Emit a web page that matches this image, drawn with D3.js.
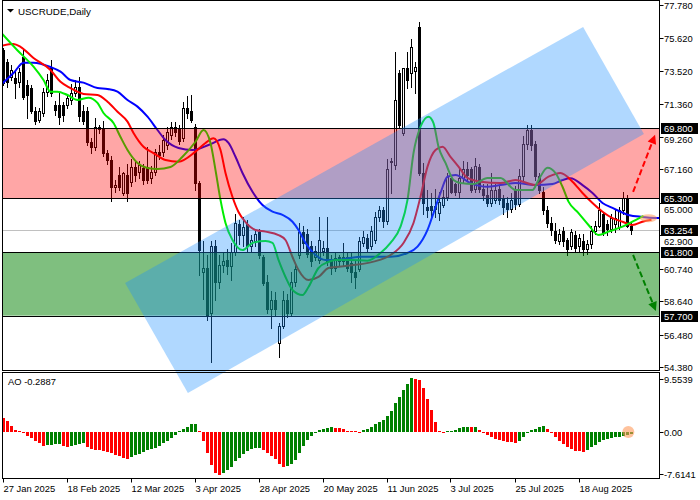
<!DOCTYPE html>
<html><head><meta charset="utf-8">
<script src="https://cdn.jsdelivr.net/npm/d3@7/dist/d3.min.js"></script>
<style>html,body{margin:0;padding:0;background:#fff;}svg{display:block;font-family:"Liberation Sans",Arial,sans-serif;}</style>
</head><body>
<svg id="chart" width="700" height="500"></svg>
<script>
// ---------------- DATA ----------------
const symbolTitle = "USCRUDE,Daily";
const dateLabels = ["27 Jan 2025","18 Feb 2025","12 Mar 2025","3 Apr 2025","28 Apr 2025","20 May 2025","11 Jun 2025","3 Jul 2025","25 Jul 2025","18 Aug 2025"];
const dateLabelIdx = [0,16,32,48,64,80,96,112,128,144];

const open = [74.87,74.1,73.13,73.05,72.8,74.4,72.6,72.4,70.9,70.35,70.8,72.15,73.8,71.3,71.3,71.3,71.32,71.64,72.1,72.5,
70.9,70.9,68.9,68.6,69.75,69.8,68.2,67.76,66.0,66.8,65.63,66.8,66.35,67.3,66.98,67.24,67.3,66.6,67.0,68.3,
68.3,68.73,69.4,69.9,69.8,69.16,71.1,70.9,69.9,66.3,60.5,60.8,57.9,62.2,59.9,61.0,61.3,60.9,61.8,63.6,
62.9,63.6,62.2,62.5,63.1,61.5,59.9,58.1,58.7,55.9,57.0,58.7,57.9,59.9,61.6,63.1,63.0,62.2,61.5,61.3,
61.9,62.05,61.3,60.8,61.5,61.2,61.5,61.1,60.5,60.7,62.4,62.7,62.2,62.6,64.1,64.5,63.8,67.6,67.45,73.37,
69.5,73.69,73.37,73.5,76.34,66.9,64.74,64.8,64.8,64.31,64.85,65.39,66.6,66.2,65.7,66.6,67.2,67.2,65.9,67.3,
65.9,65.5,65.0,65.2,65.9,65.3,65.0,64.6,65.9,64.9,66.7,68.8,69.7,68.8,66.7,65.7,64.5,63.7,63.2,62.55,
63.2,62.6,62.2,62.9,62.2,62.5,62.0,62.3,63.2,63.5,64.3,63.6,63.3,63.6,63.4,64.5,65.3,63.5];
const high = [75.0,74.3,73.9,73.6,73.7,75.0,72.9,72.6,71.2,71.1,72.4,73.3,74.2,71.6,72.1,71.5,72.0,72.7,72.9,73.1,
71.3,71.2,69.2,70.5,70.0,70.3,68.4,68.0,66.5,67.3,67.0,67.5,67.8,67.6,67.7,67.5,68.6,67.4,68.5,68.7,
69.4,69.9,70.2,70.2,70.0,71.5,71.9,71.96,70.1,66.4,62.5,61.6,62.5,62.6,61.6,61.8,62.0,62.4,64.3,63.9,
64.1,63.9,62.9,63.3,63.3,61.6,60.3,59.3,59.2,57.2,59.3,59.1,60.5,61.0,63.7,63.5,63.3,62.5,62.2,64.1,
62.5,64.1,61.6,61.8,61.6,62.4,61.8,61.8,61.2,62.8,63.2,63.0,63.5,64.4,64.8,64.7,67.8,67.9,74.76,73.6,
73.7,74.76,75.6,74.1,76.7,67.55,65.82,65.6,65.9,65.7,65.8,66.9,66.8,66.3,67.3,67.7,67.6,67.3,67.9,67.5,
66.2,66.2,66.9,66.2,66.1,65.5,65.4,65.6,66.1,67.2,69.3,70.0,70.0,69.0,66.9,66.0,64.8,64.1,63.7,63.3,
63.4,62.7,63.3,63.2,63.0,63.0,62.6,63.5,63.8,64.96,64.4,63.9,64.3,64.5,64.7,65.7,65.5,63.7];
const low = [72.6,72.5,72.9,71.8,72.5,71.7,70.5,70.8,70.1,70.2,70.6,71.9,71.9,70.7,70.1,70.3,71.1,71.4,71.9,70.3,
70.1,68.7,68.2,68.4,69.5,68.0,67.5,65.1,65.7,65.8,65.5,65.1,66.1,66.4,66.6,66.2,66.3,66.3,66.8,67.8,
68.0,68.5,69.1,69.3,68.8,69.0,70.5,70.2,65.8,60.3,58.8,57.4,54.7,58.7,59.5,60.5,60.4,60.0,61.6,62.3,
62.2,61.9,61.8,62.2,61.4,59.7,57.9,56.9,57.7,55.05,56.9,57.6,57.7,59.6,61.4,62.1,61.5,60.9,61.3,61.1,
61.6,61.0,60.4,60.6,61.0,61.0,60.6,59.9,59.5,60.6,62.2,61.9,62.0,62.4,63.8,63.4,63.6,65.6,67.2,69.8,
69.4,72.4,72.5,72.1,66.8,64.3,64.1,64.1,64.1,63.9,64.7,65.2,65.6,65.5,65.3,66.3,66.4,65.7,65.7,65.7,
65.2,64.8,64.8,65.0,64.9,64.3,64.1,64.4,64.6,64.8,66.5,68.5,68.4,66.5,65.6,64.3,63.4,62.9,62.4,62.3,
62.2,61.6,62.0,61.8,61.9,61.6,61.7,62.1,63.0,63.4,62.9,62.9,63.1,63.1,63.3,64.3,63.4,63.0];
const close = [72.74,72.8,73.58,72.75,73.45,71.85,71.96,70.9,70.3,70.9,72.15,72.93,72.1,70.98,70.54,70.65,71.77,72.1,72.5,70.6,
70.25,68.9,68.6,69.9,69.9,68.2,67.76,66.0,66.15,66.0,66.92,65.6,67.3,66.8,67.44,66.47,66.5,66.98,68.3,68.1,
69.05,69.57,69.9,69.6,69.0,71.1,70.8,70.35,66.25,61.95,60.75,57.75,62.2,59.9,61.0,61.2,60.9,61.8,63.7,62.9,
63.4,62.2,62.6,63.0,61.6,59.8,58.1,58.7,58.1,57.0,58.7,57.9,59.9,60.7,63.1,62.4,61.7,61.2,61.9,62.6,
62.1,61.2,60.8,61.4,61.2,61.5,60.8,60.5,60.2,62.5,62.8,62.1,63.2,64.1,64.5,63.8,67.2,67.7,71.64,70.02,
73.69,72.93,75.05,73.8,66.9,64.96,64.53,64.5,64.6,65.07,65.39,66.68,65.7,65.7,66.6,67.2,66.8,65.8,67.4,65.9,
65.5,65.0,65.8,65.8,65.2,64.7,64.6,65.2,64.9,66.7,68.8,69.7,68.7,66.7,65.8,64.5,63.7,63.25,62.6,63.0,
62.5,62.0,63.1,62.1,62.7,62.0,62.3,63.2,63.5,64.5,63.1,63.3,64.0,64.0,64.5,65.3,63.5,63.254];

// Alligator lines: bar positions and prices
const jawIdx = [-0.75,2.5,5,7.5,11.75,14.25,16.75,20,23.5,26,28.5,31,33.5,36,38.5,40.5,43.75,47.25,51.25,55,56.25,58,59.75,62.25,64.75,67.25,69.75,72.25,73.75,75.5,78,80.5,83,89.25,96.75,101,103.5,106,107.5,109.25,111,113,116.75,121,124.25,128,133,137.25,139.75,141.75,144.75,147.25,149.75,152.25,156.25,159.75,163,165];
const jaw = [72.6,73.38,74.05,74.05,73.77,73.47,72.93,72.76,72.41,72.35,72.18,71.64,71.21,70.56,69.7,69.05,68.54,68.41,68.73,69.1,68.86,67.97,66.92,65.71,64.85,64.42,64.21,63.77,63.24,62.4,61.62,61.3,61.3,61.51,61.51,61.75,62.16,63.24,64.33,65.63,66.68,66.79,66.27,66.03,66.14,66.27,66.14,66.21,66.47,66.58,66.14,65.63,64.98,64.66,64.21,64.08,64.01,64.0];
const teethIdx = [-0.75,2.5,4.25,7.5,11.75,14.25,16.75,20,23.5,26,28.5,31,32.5,35,37.5,40.5,43.75,48,50.5,52.5,54.25,55.5,57.25,58.75,60.5,63,65.5,68.75,70.5,72.25,73.75,76.25,78.75,81.25,83,87.5,92.5,96.75,100,102.5,104.25,106,108,109.75,111.75,113.75,116,119.25,124.25,128,133,136.25,139.25,142.25,144.75,147.25,149.75,152.25,154.75,157.25,159.75,162];
const teeth = [75.13,75.26,75.08,74.35,73.58,72.82,72.41,72.03,71.96,71.53,70.88,70.24,69.51,68.62,68.21,67.76,67.65,68.3,68.86,69.16,68.41,66.92,65.37,64.4,63.75,63.24,63.13,62.91,62.59,61.49,60.65,60.0,60.2,60.78,60.84,60.97,61.19,61.62,62.4,63.69,65.39,67.33,68.41,68.62,67.97,67.33,66.6,66.36,66.27,66.47,66.14,66.68,66.92,66.36,65.63,64.98,64.42,64.01,63.77,63.56,63.77,63.9];
const lipsIdx = [-1,3.4,7.5,10,11.75,13.5,16,18.5,21.25,23.5,25,27.5,29.25,31,33.5,36,38.5,41.75,44.75,48,50,51.75,53,54.25,55.5,57.25,59.75,62.25,65.5,67.25,68.75,70.5,72.25,74.75,76.25,78.75,81.25,83,86.75,91,94.25,96.75,99.25,101,102.5,104.25,106.25,107.5,108.75,110.5,112.5,114.25,117.5,121,124.25,128,132.25,133.75,136,138,139.75,141.25,143.75,146.25,148.75,151.25,154.75,158,160];
const lips = [76.1,74.87,73.79,72.93,72.18,72.18,71.96,71.64,71.79,71.45,70.8,70.15,69.25,68.41,67.57,67.24,67.18,67.31,67.97,68.94,69.7,68.86,67.11,65.18,63.69,62.59,61.94,62.4,62.52,62.4,61.3,60.2,59.36,59.03,59.55,60.78,61.17,61.3,61.3,61.25,61.75,62.4,63.45,65.18,68.21,69.91,70.56,70.15,68.62,67.57,66.47,66.27,66.21,66.6,66.6,65.82,65.82,66.47,67.26,66.92,66.03,65.07,64.33,63.56,62.91,63.13,63.45,63.88,64.15];

// Awesome Oscillator values (one per bar)
const ao = [2.6,1.9,1.1,0.4,0.1,-0.2,-0.7,-1.1,-1.55,-1.9,-2.45,-2.3,-2.25,-2.2,-2.15,-2.45,-2.75,-2.5,-2.3,-2.15,
-2.05,-2.7,-3.1,-3.25,-3.3,-3.45,-3.6,-3.85,-4.15,-4.4,-4.7,-4.85,-4.45,-4.2,-3.9,-3.6,-3.3,-3.1,-2.85,-2.45,
-2.05,-1.6,-1.1,-0.5,0.15,0.5,0.95,1.45,1.5,0.2,-1.55,-3.7,-5.9,-7.3,-7.7,-7.35,-6.9,-6.3,-5.3,-4.6,
-4.0,-3.5,-3.0,-2.9,-2.85,-3.2,-3.7,-4.4,-4.9,-5.8,-6.3,-6.2,-5.8,-5.0,-3.8,-2.6,-1.5,-0.7,-0.2,0.3,
0.5,0.7,0.85,0.8,0.7,0.5,0.25,0.12,0.1,0.08,0.45,0.6,0.95,1.45,1.85,2.15,2.9,3.85,5.3,6.25,
7.6,8.65,9.75,9.5,9.35,7.9,5.95,3.9,1.85,0.2,0.05,0.1,0.2,0.45,0.7,0.85,0.9,0.85,0.88,0.4,
-0.25,-0.55,-0.85,-1.2,-1.45,-1.7,-1.8,-1.85,-1.9,-1.6,-0.9,-0.25,0.35,0.6,0.95,1.05,0.6,0.05,-0.85,-1.55,
-2.15,-2.75,-3.1,-3.35,-3.4,-3.55,-3.25,-2.75,-2.35,-1.75,-1.45,-1.2,-1.1,-0.95,-0.85,-0.7,-0.45,-0.2887];

const priceTicks = [77.78,75.62,73.52,71.36,69.26,67.16,65.00,62.90,60.74,58.64,56.48,54.38];
const levelPrices = [69.8,65.3,61.8,57.7];
const lastPrice = 63.254;
const aoTicks = [9.5539,0,-7.6141];
const aoTickText = ["9.5539","0.00","-7.6141"];
// zones (price bands) and channel corners (bar index, price)
const redZone = [65.3,69.8];
const greenZone = [57.7,61.8];
const channelIdx = [30.4,144.9,160.1,46.1];
const channelPrice = [59.81,76.36,69.44,52.7];
// forecast arrows [startIdx, startPrice, endIdx, endPrice]
const upArrow = [157.4,65.7,162.9,69.4];
const downArrow = [157.4,61.62,163.1,58.0];

// ---------------- DRAWING ----------------
const svg = d3.select("#chart");
const plotL = 2.5, plotR = 659.5, mainT = 0.5, mainB = 370.5, aoT = 372.5, aoB = 478.5;
const x = d3.scaleLinear().domain([0,157]).range([3.5, 3.5+4*157]);
const y = d3.scaleLinear().domain([54.38,77.78]).range([367,5]);
const ya = d3.scaleLinear().domain([-7.6141,9.5539]).range([474.3,379]);

const defs = svg.append("defs");
defs.append("clipPath").attr("id","mainClip").append("rect").attr("x",3).attr("y",1).attr("width",656).attr("height",369);
defs.append("clipPath").attr("id","chanClip").append("rect").attr("x",3).attr("y",1).attr("width",656).attr("height",470);
defs.append("clipPath").attr("id","aoClip").append("rect").attr("x",3).attr("y",373).attr("width",656).attr("height",105);

const main = svg.append("g").attr("clip-path","url(#mainClip)");

// last price line
main.append("line").attr("x1",3).attr("x2",659).attr("y1",Math.round(y(lastPrice))+0.5).attr("y2",Math.round(y(lastPrice))+0.5)
  .attr("stroke","#c0c0c0").attr("stroke-width",1);

// candles
const bars = d3.range(open.length);
const cg = main.append("g");
bars.forEach(i=>{
  const xc = x(i);
  const o=open[i], c=close[i];
  const yh=Math.round(y(high[i])), yl=Math.round(y(low[i]));
  const top=Math.round(y(Math.max(o,c))), bot=Math.round(y(Math.min(o,c)));
  cg.append("line").attr("x1",xc).attr("x2",xc).attr("y1",yh).attr("y2",yl+1).attr("stroke","#000").attr("stroke-width",1);
  if(c>=o){
    const h=Math.max(1,bot-top);
    cg.append("rect").attr("x",xc-1).attr("y",top+0.5).attr("width",2).attr("height",h)
      .attr("fill","#fff").attr("stroke","#000").attr("stroke-width",1);
  } else {
    cg.append("rect").attr("x",xc-1.5).attr("y",top).attr("width",3).attr("height",Math.max(1,bot-top+1)).attr("fill","#000");
  }
});

// alligator lines
function drawLine(idx, vals, color){
  const pts = idx.map((d,k)=>[x(d), y(vals[k])]);
  main.append("path").attr("d", d3.line().curve(d3.curveMonotoneX)(pts))
    .attr("fill","none").attr("stroke",color).attr("stroke-width",2);
}
drawLine(jawIdx, jaw, "#0000ff");
drawLine(teethIdx, teeth, "#ff0000");
drawLine(lipsIdx, lips, "#00ee00");

// channel
const chPts = channelIdx.map((d,k)=>[x(d), y(channelPrice[k])]);
svg.append("g").attr("clip-path","url(#chanClip)").append("path")
  .attr("d", d3.line()(chPts)+"Z").attr("fill","rgba(30,144,255,0.35)");

// zones
main.append("rect").attr("x",0).attr("width",660).attr("y",y(redZone[1])).attr("height",y(redZone[0])-y(redZone[1]))
  .attr("fill","rgba(255,0,0,0.35)");
main.append("rect").attr("x",0).attr("width",660).attr("y",y(greenZone[1])).attr("height",y(greenZone[0])-y(greenZone[1]))
  .attr("fill","rgba(0,128,0,0.5)");
levelPrices.forEach(p=>{
  const yy=Math.round(y(p))+0.5;
  main.append("line").attr("x1",0).attr("x2",660).attr("y1",yy).attr("y2",yy).attr("stroke","#000").attr("stroke-width",1);
});

// highlight ellipse at the end of the alligator
main.append("ellipse").attr("cx",x(161.25)).attr("cy",y(64.0)).attr("rx",8.5).attr("ry",4)
  .attr("fill","#ff9a5a").attr("opacity",0.55);

// arrows
function arrow(a, color){
  const x1=x(a[0]), y1=y(a[1]), x2=x(a[2]), y2=y(a[3]);
  const ang=Math.atan2(y2-y1,x2-x1), L=9, Wd=4.5;
  const bx=x2-L*Math.cos(ang), by=y2-L*Math.sin(ang);
  main.append("line").attr("x1",x1).attr("y1",y1).attr("x2",bx).attr("y2",by)
    .attr("stroke",color).attr("stroke-width",2).attr("stroke-dasharray","6,3");
  const p=[[x2,y2],[bx+Wd*Math.sin(ang),by-Wd*Math.cos(ang)],[bx-Wd*Math.sin(ang),by+Wd*Math.cos(ang)]];
  main.append("path").attr("d",d3.line()(p)+"Z").attr("fill",color);
}
arrow(upArrow,"#ff0000");
arrow(downArrow,"#008000");

// AO histogram
const ag = svg.append("g").attr("clip-path","url(#aoClip)");
const y0 = ya(0);
bars.forEach(i=>{
  const v=ao[i];
  const col = (i>0 && v>ao[i-1]) ? "#008000" : "#ff0000";
  const yv = ya(v);
  const t = Math.round(Math.min(yv,y0)), b = Math.round(Math.max(yv,y0));
  ag.append("rect").attr("x",x(i)-1.5).attr("y",t).attr("width",3).attr("height",Math.max(1,b-t)).attr("fill",col);
});
ag.append("circle").attr("cx",x(156.2)).attr("cy",y0).attr("r",6).attr("fill","#ff9a5a").attr("opacity",0.6);

// frames
svg.append("rect").attr("x",plotL).attr("y",mainT).attr("width",plotR-plotL).attr("height",mainB-mainT).attr("fill","none").attr("stroke","#000");
svg.append("rect").attr("x",plotL).attr("y",aoT).attr("width",plotR-plotL).attr("height",aoB-aoT).attr("fill","none").attr("stroke","#000");

// right price axis (ordinary ticks first, level boxes drawn on top as in the reference)
const axFont = 9.4;
const boxY = levelPrices.concat([lastPrice]).map(p=>Math.round(y(p))+0.5);
priceTicks.forEach(p=>{
  const yy=Math.round(y(p))+0.5;
  svg.append("line").attr("x1",plotR).attr("x2",plotR+4).attr("y1",yy).attr("y2",yy).attr("stroke","#000");
  // tick label nudged so that it stays readable next to a level box
  let ty = yy;
  boxY.forEach(b=>{ const d=ty-b; if(Math.abs(d)<11){ ty = b + (d>=0?11:-11); } });
  svg.append("text").attr("x",664).attr("y",ty).attr("dy","0.35em").attr("font-size",axFont).attr("fill","#000").text(p.toFixed(3));
});
levelPrices.concat([lastPrice]).forEach((p,k)=>{
  const yy=boxY[k];
  svg.append("rect").attr("x",661).attr("y",yy-5.5).attr("width",37).attr("height",11).attr("fill","#000");
  svg.append("text").attr("x",664).attr("y",yy).attr("dy","0.35em").attr("font-size",axFont).attr("fill","#fff").text(p.toFixed(3));
});
// AO axis
aoTicks.forEach((v,k)=>{
  const yy=Math.round(ya(v))+0.5;
  svg.append("line").attr("x1",plotR).attr("x2",plotR+4).attr("y1",yy).attr("y2",yy).attr("stroke","#000");
  svg.append("text").attr("x",664).attr("y",yy).attr("dy","0.35em").attr("font-size",axFont).attr("fill","#000").text(aoTickText[k]);
});
// date axis
dateLabelIdx.forEach((d,k)=>{
  const xx=Math.round(x(d))-0.5;
  svg.append("line").attr("x1",xx).attr("x2",xx).attr("y1",aoB).attr("y2",aoB+4).attr("stroke","#000");
  svg.append("text").attr("x",xx).attr("y",492).attr("font-size",axFont).attr("fill","#000").text(dateLabels[k]);
});

// titles
svg.append("path").attr("d","M7,9L14,9L10.5,12.5Z").attr("fill","#000");
svg.append("text").attr("x",18).attr("y",15).attr("font-size",9.8).attr("fill","#000").text(symbolTitle);
svg.append("text").attr("x",8).attr("y",385).attr("font-size",9.4).attr("fill","#000").text("AO " + ao[ao.length-1].toFixed(4));
</script>
</body></html>
